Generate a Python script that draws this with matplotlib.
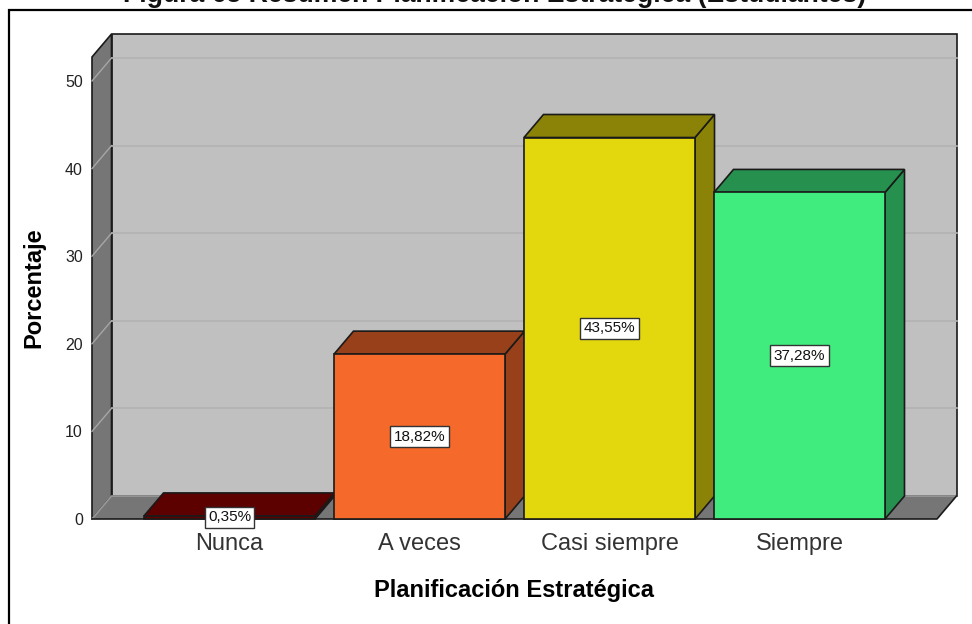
import matplotlib
matplotlib.use('Agg')
import matplotlib.pyplot as plt
from matplotlib.patches import Polygon, Rectangle

categories = ['Nunca', 'A veces', 'Casi siempre', 'Siempre']
values = [0.35, 18.82, 43.55, 37.28]
labels = ['0,35%', '18,82%', '43,55%', '37,28%']
front_colors = ['#5c0000', '#f5692b', '#e3d70e', '#41ec7f']
side_colors = ['#5c0000', '#984019', '#8b8308', '#26904e']
yticks = [0, 10, 20, 30, 40, 50]

W, H = 972, 624
plt.rcParams['font.family'] = ['Liberation Sans', 'DejaVu Sans']

fig = plt.figure(figsize=(W / 100, H / 100), dpi=100)
# front plane of the 3D box, in pixels
left, right, bottom, top = 92, 937, 519, 57
ax = fig.add_axes([left / W, 1 - bottom / H, (right - left) / W, (bottom - top) / H])

step = 190.0  # px per category
unit = 8.76   # px per percent
ax.set_xlim((left - 229.5) / step, (right - 229.5) / step)
ax.set_ylim(0, (bottom - top) / unit)
dx = 19.5 / step
dy = 23 / unit
bar_w = 171 / step
x0, x1 = ax.get_xlim()
y1 = ax.get_ylim()[1]
edge = '#1a1a1a'


def poly(pts, color, z, lw=1.2, ec=edge):
    ax.add_patch(Polygon(pts, closed=True, fc=color, ec=ec, lw=lw, zorder=z, clip_on=False))


# walls
poly([(x0 + dx, dy), (x1 + dx, dy), (x1 + dx, y1 + dy), (x0 + dx, y1 + dy)], '#c0c0c0', 1)
poly([(x0, 0), (x0 + dx, dy), (x0 + dx, y1 + dy), (x0, y1)], '#767676', 1)
poly([(x0, 0), (x1, 0), (x1 + dx, dy), (x0 + dx, dy)], '#767676', 1, ec='none')
# floor edges: soft at the back and left, dark at the front and right
ax.plot([x0, x0 + dx, x1 + dx], [0, dy, dy], color='#999999', lw=1.2, zorder=1.5, clip_on=False)
ax.plot([x0, x1, x1 + dx], [0, 0, dy], color=edge, lw=1.2, zorder=1.5, clip_on=False)

# gridlines along side and back walls
for t in yticks[1:]:
    ax.plot([x0, x0 + dx], [t, t + dy], color='#a6a6a6', lw=1.0, zorder=2, clip_on=False)
    ax.plot([x0 + dx, x1 + dx], [t + dy, t + dy], color='#b2b2b2', lw=1.2, zorder=2, clip_on=False)

# bars
for i, (v, fc, sc) in enumerate(zip(values, front_colors, side_colors)):
    l = i - bar_w / 2
    r = i + bar_w / 2
    poly([(r, 0), (r + dx, dy), (r + dx, v + dy), (r, v)], sc, 3 + i)
    poly([(l, v), (r, v), (r + dx, v + dy), (l + dx, v + dy)], sc, 3 + i)
    poly([(l, 0), (r, 0), (r, v), (l, v)], fc, 3 + i)
    ax.text(i, v / 2, labels[i], ha='center', va='center', fontsize=11, color='#111111', zorder=10,
            bbox=dict(boxstyle='square,pad=0.22', fc='white', ec='#333333', lw=1.0))

ax.set_xticks(range(len(categories)))
ax.set_xticklabels(categories, fontsize=17, color='#333333')
ax.set_yticks(yticks)
ax.set_yticklabels([str(t) for t in yticks], fontsize=11.5, color='#222222')
ax.tick_params(axis='x', length=0, pad=10)
ax.tick_params(axis='y', length=0, pad=6.5)
for s in ax.spines.values():
    s.set_visible(False)
ax.patch.set_visible(False)

ax.set_xlabel('Planificación Estratégica', fontsize=17, fontweight='bold')
ax.xaxis.set_label_coords((514 - left) / (right - left), -(591 - bottom) / (bottom - top))
ax.xaxis.label.set_va('center')
ax.set_ylabel('Porcentaje', fontsize=17, fontweight='bold')
ax.yaxis.set_label_coords((34 - left) / (right - left), 0.5)
ax.yaxis.label.set_va('center')

# outer frame and clipped title
fig.add_artist(Rectangle((8.5 / W, -0.01), 2000 / W, 1.01 - 10 / H, transform=fig.transFigure,
                         fc='none', ec='black', lw=1.6))
fig.text(495 / W, 1 - 2 / H, 'Figura 65 Resumen Planificación Estratégica (Estudiantes)', ha='center',
         va='baseline', fontsize=19.2, fontweight='bold', color='#111111')

fig.savefig('out.png', dpi=100)
